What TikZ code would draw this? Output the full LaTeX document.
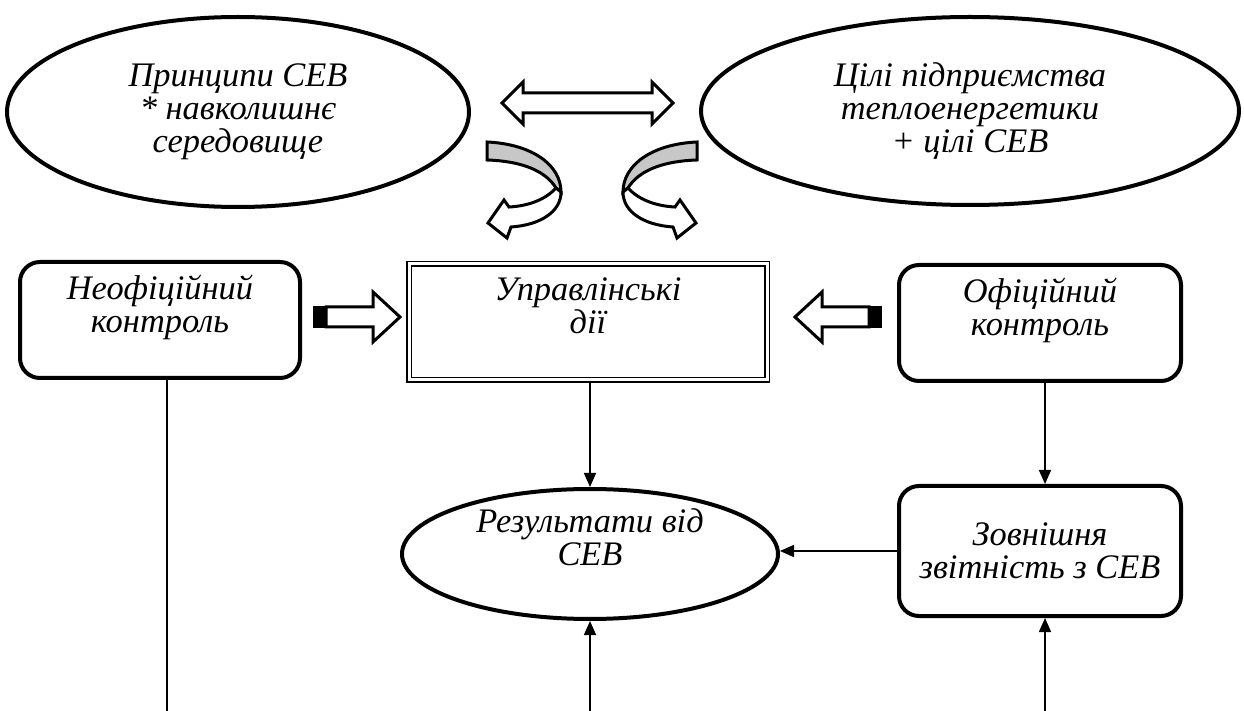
\documentclass[tikz,border=0pt]{standalone}
\usepackage{fontspec}
\setmainfont{Liberation Serif}
\usetikzlibrary{shapes.geometric,arrows.meta}
\begin{document}
\begin{tikzpicture}[x=0.5pt,y=-0.5pt,
	every node/.style={font=\fontsize{17.2}{16.5}\selectfont\itshape,align=center,inner sep=0pt},
	oval/.style={ellipse,draw,line width=2pt},
	roundbox/.style={draw,line width=2pt,rounded corners=10pt},
	dblbox/.style={draw,double,double distance=1.5pt,line width=0.6pt},
	conn/.style={line width=0.75pt,-{Triangle[length=7pt,width=6pt]}},
	block/.style={draw,line width=1.5pt,fill=white,line join=miter}]
	\useasboundingbox (0,0) rectangle (1244,711);
	% top ovals
	\node[oval,minimum width=231pt,minimum height=95pt] (pr) at (238,112) {Принципи СЕВ\\* навколишнє\\середовище};
	\node[oval,minimum width=269pt,minimum height=94pt] (goal) at (970,111) {Цілі підприємства\\теплоенергетики\\+ цілі СЕВ};
	% middle row
	\node[roundbox,minimum width=140pt,minimum height=58pt] (neof) at (160,320) {Неофіційний\\контроль\\[0pt]\mbox{}};
	\node[dblbox,minimum width=179pt,minimum height=58pt] (mid) at (588,322) {Управлінські\\дії\\[0pt]\mbox{}};
	\node[roundbox,minimum width=141pt,minimum height=58pt] (off) at (1040,323) {Офіційний\\контроль\\[0pt]\mbox{}};
	% lower row
	\node[oval,minimum width=188pt,minimum height=65pt] (res) at (590,554) {Результати від\\СЕВ\\[0pt]\mbox{}};
	\node[roundbox,minimum width=141pt,minimum height=65pt] (ext) at (1040,551) {Зовнішня\\звітність з СЕВ};
	% double arrow between ovals
	\draw[block] (502,103) -- (523,82) -- (523,93) -- (652,93) -- (652,82) -- (673,103)
		-- (652,124) -- (652,113) -- (523,113) -- (523,124) -- cycle;
	% curved arrows
	\foreach \s/\m in {0/1,1184/-1} {
			\begin{scope}[shift={(\s,0)},xscale=\m]
				\draw[block,fill=black!22] (487,142) .. controls (532,144) and (561,165) .. (561,192)
					-- (556,188) .. controls (545,170) and (520,161) .. (487,160) -- cycle;
				\draw[block] (556,188) .. controls (545,200) and (528,206) .. (509,207) -- (504,200)
					-- (488,223) -- (507,238) -- (511,227) .. controls (540,225) and (561,212) .. (561,192) -- cycle;
			\end{scope}
		}
	% block arrows into the middle box
	\foreach \s/\m in {0/1,1195/-1} {
			\begin{scope}[shift={(\s,0)},xscale=\m]
				\fill (313,306) rectangle (327,328);
				\draw[block] (326,307) -- (373,307) -- (373,292) -- (400,317) -- (373,342) -- (373,327) -- (326,327) -- cycle;
			\end{scope}
		}
	% connectors
	\coordinate (bl) at (167,711);
	\coordinate (br) at (590,711);
	\coordinate (bx) at (1045,711);
	\draw[line width=0.75pt] (bl |- neof.south) -- (bl);
	\draw[conn] (mid.south -| res) -- (res.north);
	\draw[conn] (br) -- (res.south);
	\draw[conn] (off.south -| bx) -- (ext.north -| bx);
	\draw[conn] (bx) -- (ext.south -| bx);
	\draw[conn] (ext.west) -- (ext.west -| res.east);
\end{tikzpicture}
\end{document}
